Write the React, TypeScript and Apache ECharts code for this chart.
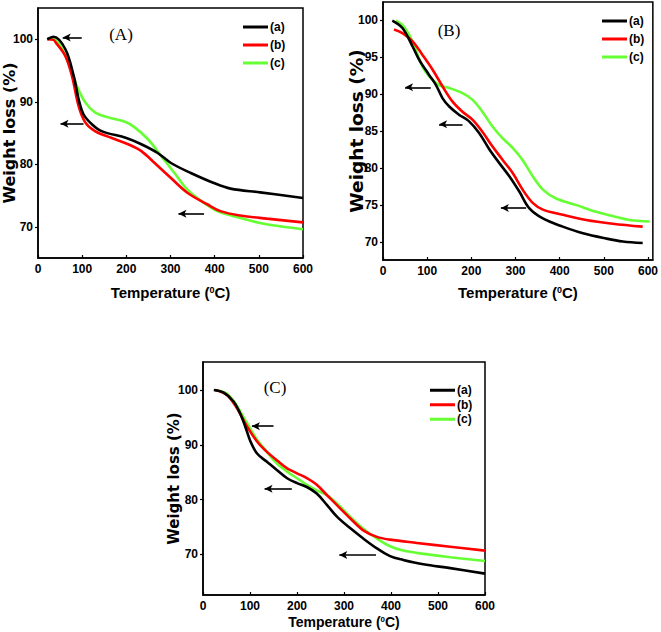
import React, { useEffect, useRef } from "react";
import * as echarts from "echarts";

// ---------- Panel A ----------
const tA_a = [21, 35, 62, 81, 92, 103, 122, 144, 200, 234, 271, 301, 346, 398, 436, 503, 600];
const wA_a = [100, 100.4, 98.4, 94.1, 90.4, 88, 86.4, 85.3, 84.2, 83.2, 81.8, 80.2, 78.6, 77, 76.1, 75.5, 74.6];
const tA_b = [21, 35, 40, 62, 77, 92, 107, 129, 167, 204, 234, 264, 301, 339, 383, 413, 458, 518, 600];
const wA_b = [100, 99.9, 99.5, 97.3, 94.1, 89.3, 86.7, 85.3, 84.2, 83.2, 82.1, 80.2, 77.8, 75.4, 73.6, 72.5, 71.8, 71.3, 70.7];
const tA_c = [21, 32, 51, 70, 88, 107, 129, 159, 197, 219, 249, 279, 309, 339, 376, 406, 443, 503, 556, 600];
const wA_c = [100, 100.2, 98.9, 96, 92.5, 89.9, 88.3, 87.5, 86.8, 85.9, 84, 81.3, 78.6, 75.9, 73.8, 72.5, 71.7, 70.6, 70, 69.6];
// arrows: [tail temperature, head temperature, weight]
const arrowsA = [[99, 56, 100.3], [103, 51, 86.5], [376, 318, 72.1]];

// ---------- Panel B ----------
const tB_a = [21, 44, 67, 82, 104, 120, 135, 150, 172, 195, 218, 241, 263, 286, 309, 331, 362, 407, 453, 505, 543, 588];
const wB_a = [99.9, 98.9, 96.4, 94.6, 92.6, 91.2, 89.4, 88.3, 87.2, 86.3, 84.7, 82.5, 80.7, 78.9, 76.8, 74.6, 73.2, 72.1, 71.2, 70.5, 70.1, 69.9];
const tB_b = [25, 44, 67, 89, 112, 135, 157, 180, 203, 225, 248, 271, 294, 316, 339, 362, 407, 460, 520, 588];
const wB_b = [98.7, 98.2, 97.1, 95.3, 93.3, 91, 89, 87.6, 86.5, 84.9, 82.9, 81.1, 79.3, 77.1, 75.3, 74.4, 73.7, 73, 72.5, 72.1];
const tB_c = [29, 44, 59, 74, 89, 104, 127, 150, 180, 203, 225, 248, 271, 294, 316, 339, 362, 392, 438, 483, 528, 558, 604];
const wB_c = [99.9, 99.3, 98, 96, 93.7, 92.4, 91.2, 90.8, 90.1, 89.2, 87.6, 85.6, 84, 82.7, 81.1, 78.9, 77.1, 75.9, 75, 74.1, 73.4, 73, 72.8];
const arrowsB = [[108, 50, 90.9], [180, 127, 85.9], [324, 267, 74.6]];

// ---------- Panel C ----------
const tC_a = [23, 44, 65, 79, 90, 101, 115, 136, 157, 179, 200, 221, 242, 264, 285, 313, 341, 370, 398, 426, 469, 526, 600];
const wC_a = [100, 99.5, 97.9, 95.7, 93.3, 90.6, 88.4, 86.9, 85.4, 83.9, 83, 82.3, 81.1, 79, 76.9, 74.8, 72.9, 71.1, 69.7, 69, 68.2, 67.5, 66.5];
const tC_b = [26, 51, 72, 94, 115, 136, 157, 179, 200, 221, 242, 264, 285, 313, 341, 370, 398, 455, 526, 600];
const wC_b = [100, 99.1, 96.7, 93.3, 90.6, 88.7, 87.2, 85.7, 84.8, 83.9, 82.7, 80.8, 79, 76.6, 74.4, 73.2, 72.7, 72.1, 71.4, 70.7];
const tC_c = [26, 51, 72, 94, 115, 136, 157, 179, 200, 221, 242, 264, 285, 313, 341, 370, 398, 426, 469, 526, 600];
const wC_c = [100, 99.3, 97.1, 93.9, 90.9, 88.7, 86.6, 85.1, 83.9, 82.7, 81.7, 80.8, 79.3, 76.9, 74.7, 72.9, 71.5, 70.7, 70.1, 69.5, 68.8];
const arrowsC = [[150, 104, 93.4], [189, 131, 82], [368, 290, 69.9]];

const seriesNames = ["(a)", "(b)", "(c)"];
const colors = ["#000000", "#ff0000", "#66ff33"];
const xTicks = [0, 100, 200, 300, 400, 500, 600];
const yTicksA = [70, 80, 90, 100];
const yTicksB = [70, 75, 80, 85, 90, 95, 100];
const yTicksC = [70, 80, 90, 100];
const panelLabels = ["(A)", "(B)", "(C)"];
const xTitle = "Temperature ({sup|0}C)";
const yTitle = "Weight loss (%)";

const zip = (xs: number[], ys: number[]) => xs.map((x, i) => [x, ys[i]]);

const SANS = "'Liberation Sans', Arial, sans-serif";

export default function App() {
  const ref = useRef<HTMLDivElement>(null);
  useEffect(() => {
    if (!ref.current) return;
    const chart = echarts.init(ref.current, null, { renderer: "svg" });

    const panels = [
      {
        grid: { left: 36, top: 8, width: 267, height: 250 },
        xMax: 600, yMin: 65, yMax: 105, yTicks: yTicksA,
        xs: [tA_a, tA_b, tA_c], ys: [wA_a, wA_b, wA_c], arrows: arrowsA,
        legend: { left: 243, top: 18, lh: 18 },
        label: { x: 121, y: 34 },
        xNameSize: 15, xNameGap: 27, yNameSize: 16, yNameGap: 21,
      },
      {
        grid: { left: 383, top: 2, width: 270, height: 258 },
        xMax: 611, yMin: 67.6, yMax: 102.4, yTicks: yTicksB,
        xs: [tB_a, tB_b, tB_c], ys: [wB_a, wB_b, wB_c], arrows: arrowsB,
        legend: { left: 602, top: 12, lh: 18 },
        label: { x: 449, y: 30 },
        xNameSize: 15, xNameGap: 25, yNameSize: 18.5, yNameGap: 17,
      },
      {
        grid: { left: 203, top: 362, width: 282, height: 233 },
        xMax: 600, yMin: 62.6, yMax: 105.1, yTicks: yTicksC,
        xs: [tC_a, tC_b, tC_c], ys: [wC_a, wC_b, wC_c], arrows: arrowsC,
        legend: { left: 430, top: 383, lh: 14.5 },
        label: { x: 275, y: 387 },
        xNameSize: 14, xNameGap: 20, yNameSize: 15, yNameGap: 22,
      },
    ];

    const grids: any[] = [];
    const xAxes: any[] = [];
    const yAxes: any[] = [];
    const series: any[] = [];
    const legends: any[] = [];
    const graphics: any[] = [];

    panels.forEach((p, pi) => {
      grids.push({
        ...p.grid,
        show: true,
        borderColor: "#000",
        borderWidth: 1.5,
        backgroundColor: "transparent",
      });
      xAxes.push({
        type: "value",
        gridIndex: pi,
        min: 0,
        max: p.xMax,
        name: xTitle,
        nameLocation: "middle",
        nameGap: p.xNameGap,
        nameMoveOverlap: false,
        nameTextStyle: {
          fontFamily: SANS,
          fontWeight: "bold",
          fontSize: p.xNameSize,
          color: "#000",
          verticalAlign: "top",
          rich: {
            sup: {
              fontFamily: SANS,
              fontWeight: "bold",
              fontSize: Math.round(p.xNameSize * 0.6),
              color: "#000",
              verticalAlign: "top",
              padding: [0, 0, 6, 0],
            },
          },
        },
        axisLine: { show: true, lineStyle: { color: "#000", width: 1.5 } },
        axisTick: { show: true, inside: true, length: 3, customValues: xTicks, lineStyle: { color: "#000", width: 1.2 } },
        axisLabel: {
          customValues: xTicks,
          margin: 5,
          fontFamily: SANS,
          fontWeight: "bold",
          fontSize: 12,
          color: "#000",
        },
        splitLine: { show: false },
      });
      yAxes.push({
        type: "value",
        gridIndex: pi,
        min: p.yMin,
        max: p.yMax,
        name: yTitle,
        nameLocation: "middle",
        nameGap: p.yNameGap,
        nameMoveOverlap: false,
        nameTextStyle: {
          fontFamily: "'DejaVu Sans', sans-serif",
          fontWeight: "bold",
          fontSize: p.yNameSize,
          color: "#000",
        },
        axisLine: { show: true, lineStyle: { color: "#000", width: 1.5 } },
        axisTick: { show: true, inside: false, length: 3, customValues: p.yTicks, lineStyle: { color: "#000", width: 1.2 } },
        axisLabel: {
          customValues: p.yTicks,
          margin: 5,
          fontFamily: SANS,
          fontWeight: "bold",
          fontSize: 12,
          color: "#000",
        },
        splitLine: { show: false },
      });
      seriesNames.forEach((name, si) => {
        const s: any = {
          type: "line",
          name,
          xAxisIndex: pi,
          yAxisIndex: pi,
          data: zip(p.xs[si], p.ys[si]),
          symbol: "none",
          smooth: 0.35,
          lineStyle: { color: colors[si], width: 2.6 },
          itemStyle: { color: colors[si] },
          z: 5 - si,
        };
        if (si === 0) {
          s.markLine = {
            silent: true,
            symbol: ["none", "arrow"],
            symbolSize: [6, 8],
            label: { show: false },
            lineStyle: { color: "#000", width: 1.6, type: "solid" },
            data: p.arrows.map((a) => [
              { coord: [a[0], a[2]] },
              { coord: [a[1], a[2]] },
            ]),
          };
        }
        series.push(s);
      });
      legends.push({
        data: seriesNames,
        orient: "vertical",
        left: p.legend.left,
        top: p.legend.top,
        icon: "rect",
        itemWidth: 25,
        itemHeight: 3,
        itemGap: 0,
        padding: 0,
        selectedMode: false,
        textStyle: {
          fontFamily: SANS,
          fontWeight: "bold",
          fontSize: 12,
          lineHeight: p.legend.lh,
          color: "#000",
          padding: [0, 0, 0, -3],
        },
      });
      graphics.push({
        type: "text",
        x: p.label.x,
        y: p.label.y,
        style: {
          text: panelLabels[pi],
          fontFamily: "'Liberation Serif', 'Times New Roman', serif",
          fontSize: 17,
          fill: "#000",
          textAlign: "center",
          textVerticalAlign: "middle",
        },
      });
    });

    chart.setOption({
      animation: false,
      backgroundColor: "#fff",
      grid: grids,
      xAxis: xAxes,
      yAxis: yAxes,
      series,
      legend: legends,
      graphic: graphics,
    });
    return () => chart.dispose();
  }, []);

  return (
    <div
      ref={ref}
      style={{ position: "fixed", left: 0, top: 0, width: 661, height: 632 }}
    />
  );
}
